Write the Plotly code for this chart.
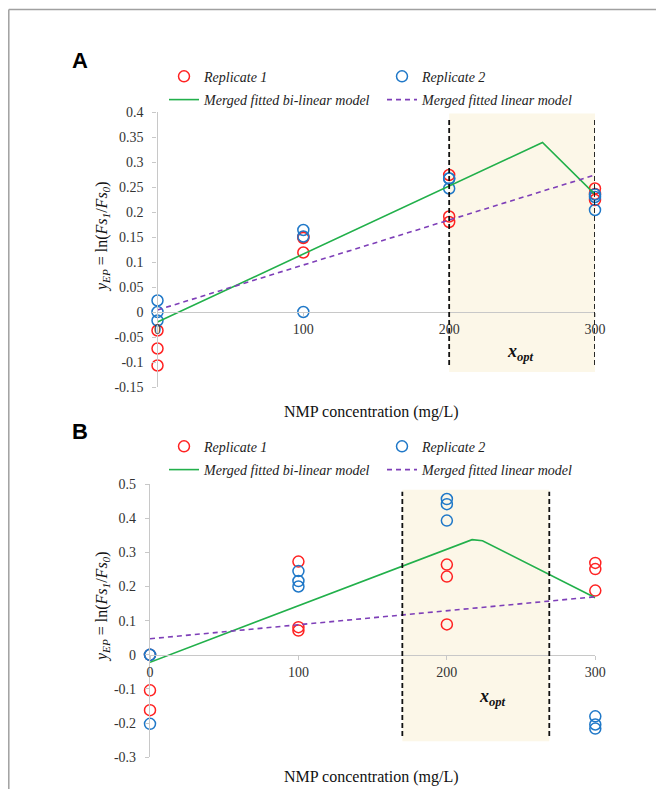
import plotly.graph_objects as go

# ---------------- data ----------------
# Panel A
a_rep1_x = [0, 0, 0, 100, 100, 100, 200, 200, 200, 300, 300, 300]
a_rep1_y = [-0.037, -0.073, -0.107, 0.148, 0.150, 0.119, 0.274, 0.191, 0.180, 0.247, 0.224, 0.236]
a_rep2_x = [0, 0, 0, 100, 100, 100, 200, 200, 200, 300, 300, 300]
a_rep2_y = [0.023, 0.0, -0.017, 0.164, 0.151, 0.0, 0.267, 0.247, 0.267, 0.235, 0.230, 0.204]
a_bilin_x = [0, 100, 200, 264, 300]
a_bilin_y = [-0.020, 0.116, 0.252, 0.339, 0.235]
a_lin_x = [0, 100, 200, 300]
a_lin_y = [0.004, 0.094, 0.184, 0.274]
a_opt = [200, 300]

# Panel B
b_rep1_x = [0, 0, 0, 100, 100, 100, 200, 200, 200, 300, 300, 300]
b_rep1_y = [0.0, -0.104, -0.162, 0.273, 0.081, 0.071, 0.264, 0.229, 0.089, 0.269, 0.251, 0.188]
b_rep2_x = [0, 0, 0, 100, 100, 100, 200, 200, 200, 300, 300, 300]
b_rep2_y = [0.0, 0.0, -0.202, 0.245, 0.216, 0.200, 0.456, 0.441, 0.393, -0.180, -0.204, -0.216]
b_bilin_x = [0, 100, 200, 217, 224, 300]
b_bilin_y = [-0.022, 0.143, 0.309, 0.337, 0.334, 0.167]
b_lin_x = [0, 100, 200, 300]
b_lin_y = [0.047, 0.088, 0.129, 0.170]
b_opt = [170, 269]

x_ticks = [0, 100, 200, 300]
x_ticktext = ["0", "100", "200", "300"]
a_yticks = [0.4, 0.35, 0.3, 0.25, 0.2, 0.15, 0.1, 0.05, 0, -0.05, -0.1, -0.15]
a_yticktext = ["0.4", "0.35", "0.3", "0.25", "0.2", "0.15", "0.1", "0.05", "0", "-0.05", "-0.1", "-0.15"]
b_yticks = [0.5, 0.4, 0.3, 0.2, 0.1, 0, -0.1, -0.2, -0.3]
b_yticktext = ["0.5", "0.4", "0.3", "0.2", "0.1", "0", "-0.1", "-0.2", "-0.3"]

names = ["Replicate 1", "Replicate 2", "Merged fitted bi-linear model", "Merged fitted linear model"]

# ---------------- styles ----------------
OFF = 8  # page body margin
W, H = 664 - 2 * OFF, 789 - OFF
RED = "#FF2222"
BLUE = "#1F78C8"
GREEN = "#22B04B"
PURPLE = "#7E3FB8"
SHADE = "#FCF7E8"
SERIF = "Liberation Serif, Times New Roman, serif"

def px(v):
    return (v - OFF) / W

def py(v):
    return 1 - (v - OFF) / H

A_yr = [-0.15, 0.4]
B_yr = [-0.3, 0.5]
A_xdom = [px(157.5), px(595)]
A_ydom = [py(387), py(112)]
B_xdom = [px(150), px(595.3)]
B_ydom = [py(757.3), py(484)]

def zero_pos(dom, rng):
    return dom[0] + (0 - rng[0]) / (rng[1] - rng[0]) * (dom[1] - dom[0])

fig = go.Figure()

def add_panel(xa, ya, r1x, r1y, r2x, r2y, bx, by, lx, ly, leg1, leg2):
    fig.add_trace(go.Scatter(x=r1x, y=r1y, mode="markers", name=names[0], xaxis=xa, yaxis=ya,
                             legend=leg1, cliponaxis=False,
                             marker=dict(symbol="circle-open", size=11, color=RED, line=dict(width=1.5, color=RED))))
    fig.add_trace(go.Scatter(x=r2x, y=r2y, mode="markers", name=names[1], xaxis=xa, yaxis=ya,
                             legend=leg1, cliponaxis=False,
                             marker=dict(symbol="circle-open", size=11, color=BLUE, line=dict(width=1.5, color=BLUE))))
    fig.add_trace(go.Scatter(x=bx, y=by, mode="lines", name=names[2], xaxis=xa, yaxis=ya,
                             legend=leg2, cliponaxis=False, line=dict(color=GREEN, width=1.6)))
    fig.add_trace(go.Scatter(x=lx, y=ly, mode="lines", name=names[3], xaxis=xa, yaxis=ya,
                             legend=leg2, cliponaxis=False, line=dict(color=PURPLE, width=1.6, dash="5px,4px")))

add_panel("x", "y", a_rep1_x, a_rep1_y, a_rep2_x, a_rep2_y, a_bilin_x, a_bilin_y, a_lin_x, a_lin_y, "legend", "legend2")
add_panel("x2", "y2", b_rep1_x, b_rep1_y, b_rep2_x, b_rep2_y, b_bilin_x, b_bilin_y, b_lin_x, b_lin_y, "legend3", "legend4")

axis_common = dict(showgrid=False, zeroline=False, showline=True, linecolor="#C8C8C8", linewidth=1.2,
                   ticks="outside", ticklen=4, tickcolor="#C8C8C8", tickwidth=1, automargin=False,
                   tickfont=dict(family=SERIF, size=14, color="#333333"), fixedrange=True)

fig.update_layout(
    width=W, height=H, margin=dict(l=0, r=0, t=0, b=0, autoexpand=False),
    paper_bgcolor="white", plot_bgcolor="rgba(0,0,0,0)",
    xaxis=dict(axis_common, domain=A_xdom, range=[0, 300], anchor="free",
               position=zero_pos(A_ydom, A_yr), tickvals=x_ticks, ticktext=x_ticktext),
    yaxis=dict(axis_common, domain=A_ydom, range=A_yr, anchor="x",
               tickvals=a_yticks, ticktext=a_yticktext, ticklabelstandoff=6),
    xaxis2=dict(axis_common, domain=B_xdom, range=[0, 300], anchor="free",
                position=zero_pos(B_ydom, B_yr), tickvals=x_ticks, ticktext=x_ticktext),
    yaxis2=dict(axis_common, domain=B_ydom, range=B_yr, anchor="x2",
                tickvals=b_yticks, ticktext=b_yticktext, ticklabelstandoff=6),
)

leg_common = dict(orientation="h", xanchor="left", yanchor="middle", bgcolor="rgba(0,0,0,0)",
                  font=dict(family=SERIF, size=14, color="#222222", style="italic"), entrywidth=173,
                  entrywidthmode="pixels", itemclick=False, itemdoubleclick=False,
                  tracegroupgap=0)
fig.update_layout(
    legend=dict(leg_common, x=px(164), y=py(76.7)),
    legend2=dict(leg_common, x=px(164), y=py(100)),
    legend3=dict(leg_common, x=px(164), y=py(446.7)),
    legend4=dict(leg_common, x=px(164), y=py(470)),
)

shapes = []
for xa, ya, opt, rect_y, dash_y in [("x", "y", a_opt, [-0.12, 0.397], [-0.106, 0.39]),
                                     ("x2", "y2", b_opt, [-0.253, 0.483], [-0.238, 0.477])]:
    shapes.append(dict(type="rect", xref=xa, yref=ya, x0=opt[0], x1=opt[1], y0=rect_y[0], y1=rect_y[1],
                       fillcolor=SHADE, line=dict(width=0), layer="below"))
    for xv in opt:
        shapes.append(dict(type="line", xref=xa, yref=ya, x0=xv, x1=xv, y0=dash_y[0], y1=dash_y[1],
                           line=dict(color="#111111", width=1.8, dash="5px,3px"), layer="above"))
# outer frame (top and left edges only; the rest lies outside the picture)
fx = 0.8 / W
fy = py(9.5)
shapes.append(dict(type="line", xref="paper", yref="paper", x0=fx, x1=1, y0=fy, y1=fy,
                   line=dict(color="#A0A0A0", width=1.5)))
shapes.append(dict(type="line", xref="paper", yref="paper", x0=fx, x1=fx, y0=0, y1=fy,
                   line=dict(color="#A0A0A0", width=1.5)))
fig.update_layout(shapes=shapes)

ytitle = "<i>y<sub>EP</sub></i> = ln(<i>Fs<sub>1</sub></i>/<i>Fs<sub>0</sub></i>)"
C = dict(showarrow=False, xanchor="center", yanchor="middle")
ann = [
    dict(C, text="<b>A</b>", x=px(80), y=py(61), xref="paper", yref="paper",
         font=dict(family="Liberation Sans, Arial", size=22, color="black")),
    dict(C, text="<b>B</b>", x=px(80), y=py(431), xref="paper", yref="paper",
         font=dict(family="Liberation Sans, Arial", size=22, color="black")),
    dict(C, text="NMP concentration (mg/L)", x=px(371), y=py(412), xref="paper", yref="paper",
         font=dict(family=SERIF, size=16, color="#111111")),
    dict(C, text="NMP concentration (mg/L)", x=px(371), y=py(777), xref="paper", yref="paper",
         font=dict(family=SERIF, size=16, color="#111111")),
    dict(C, text=ytitle, x=px(102), y=py(237), xref="paper", yref="paper", textangle=-90,
         font=dict(family=SERIF, size=16, color="#111111")),
    dict(C, text=ytitle, x=px(102), y=py(607), xref="paper", yref="paper", textangle=-90,
         font=dict(family=SERIF, size=16, color="#111111")),
    dict(C, text="<b><i>x<sub>opt</sub></i></b>", x=(a_opt[0] + a_opt[1]) / 2 - 1, y=-0.08, xref="x", yref="y",
         font=dict(family=SERIF, size=18, color="#111111")),
    dict(C, text="<b><i>x<sub>opt</sub></i></b>", x=231, y=-0.126, xref="x2", yref="y2",
         font=dict(family=SERIF, size=18, color="#111111")),
]
fig.update_layout(annotations=ann)

fig.write_html("out.html")
